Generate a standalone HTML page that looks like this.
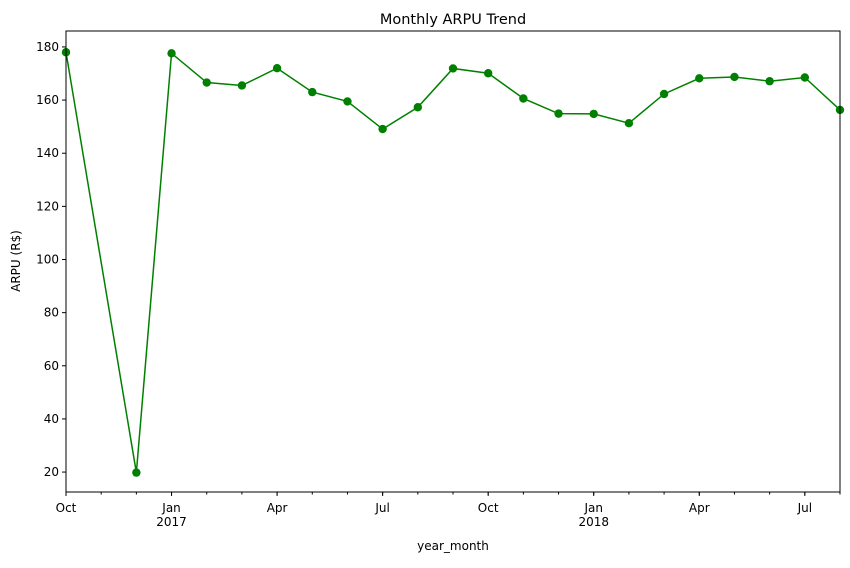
<!DOCTYPE html>
<html><head><meta charset="utf-8"><style>
body{margin:0;background:#fff;font-family:"Liberation Sans","DejaVu Sans",sans-serif;}
svg text{font-family:"DejaVu Sans","Liberation Sans",sans-serif;}
</style></head><body>
<svg id="chart" width="850" height="563" xmlns="http://www.w3.org/2000/svg">
<rect width="850" height="563" fill="#fff"/>
<text x="453" y="24" text-anchor="middle" font-size="14.5">Monthly ARPU Trend</text>
<text transform="translate(20,261) rotate(-90)" text-anchor="middle" font-size="12">ARPU (R$)</text>
<text x="453" y="550" text-anchor="middle" font-size="12">year_month</text>
<g id="axes"></g>
<g id="series"></g>
<rect x="66" y="31" width="774" height="461" fill="none" stroke="#000" stroke-width="1"/>
</svg>
<script>
const months = ["2016-10","2016-12","2017-01","2017-02","2017-03","2017-04","2017-05","2017-06","2017-07","2017-08","2017-09","2017-10","2017-11","2017-12","2018-01","2018-02","2018-03","2018-04","2018-05","2018-06","2018-07","2018-08"];
const arpu = [178.0,19.8,177.6,166.6,165.5,172.0,163.0,159.5,149.1,157.3,171.9,170.1,160.6,154.9,154.8,151.3,162.3,168.2,168.7,167.1,168.5,156.3];
const yTicks = [20,40,60,80,100,120,140,160,180];
const xMajor = [{m:"2016-10",l1:"Oct",l2:""},{m:"2017-01",l1:"Jan",l2:"2017"},{m:"2017-04",l1:"Apr",l2:""},{m:"2017-07",l1:"Jul",l2:""},{m:"2017-10",l1:"Oct",l2:""},{m:"2018-01",l1:"Jan",l2:"2018"},{m:"2018-04",l1:"Apr",l2:""},{m:"2018-07",l1:"Jul",l2:""}];

const L=66,R=840,T=31,B=492, yMin=12.5, yMax=186.0;
function mIdx(s){const [y,m]=s.split("-").map(Number);return y*12+m-1;}
const m0=mIdx("2016-10"), m1=mIdx("2018-08");
function xs(s){return L+(mIdx(s)-m0)/(m1-m0)*(R-L);}
function ys(v){return B-(v-yMin)/(yMax-yMin)*(B-T);}
const NS="http://www.w3.org/2000/svg";
function mk(tag,attrs,parent){const e=document.createElementNS(NS,tag);for(const k in attrs)e.setAttribute(k,attrs[k]);parent.appendChild(e);return e;}
const ax=document.getElementById("axes"), sr=document.getElementById("series");
yTicks.forEach(v=>{
  const y=ys(v);
  const t=mk("line",{x1:L-4,x2:L,y1:y,y2:y,stroke:"#000"},ax);
  
  
  const tx=mk("text",{x:L-7,y:y+4,"text-anchor":"end","font-size":"12"},ax);
  tx.textContent=v;
  
  
});
for(let i=m0;i<=m1;i++){
  const x=L+(i-m0)/(m1-m0)*(R-L);
  const t=mk("line",{x1:x,x2:x,y1:B,y2:B+2.5,stroke:"#000"},ax);
  
  
}
xMajor.forEach(d=>{
  const x=xs(d.m);
  const t=mk("line",{x1:x,x2:x,y1:B,y2:B+4,stroke:"#000"},ax);
  
  
  const tx=mk("text",{x:x,y:B+20,"text-anchor":"middle","font-size":"12"},ax);
  tx.textContent=d.l1;
  
  
  if(d.l2){
    const t2=mk("text",{x:x,y:B+34,"text-anchor":"middle","font-size":"12"},ax);
    t2.textContent=d.l2;
    
    
  }
});
const pts=months.map((m,i)=>xs(m)+","+ys(arpu[i])).join(" ");
const line=mk("polyline",{points:pts,fill:"none",stroke:"#008000","stroke-width":"1.5"},sr);


months.forEach((m,i)=>{
  const c=mk("circle",{cx:xs(m),cy:ys(arpu[i]),r:4.2,fill:"#008000"},sr);
  
  
});
</script>
</body></html>
